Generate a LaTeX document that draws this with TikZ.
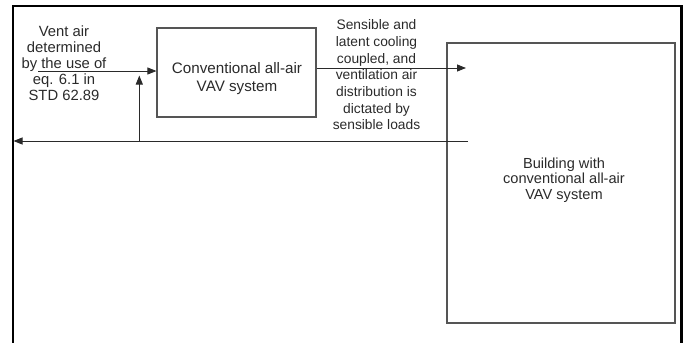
\documentclass[tikz,border=0pt]{standalone}
\usepackage{fontspec}
\setmainfont{Liberation Sans}
\usetikzlibrary{arrows.meta}
\definecolor{ink}{HTML}{2A2A2A}
\definecolor{boxline}{HTML}{555555}
\tikzset{
  frameline/.style={line width=2.2pt, draw=black},
  boxnode/.style={draw=boxline, line width=1.2pt, rectangle, inner sep=0pt},
  conn/.style={draw=ink, line width=0.8pt},
  arr/.style={conn, -{Triangle[length=9pt,width=7pt]}},
  lbl/.style={align=center, text=ink, inner sep=0pt},
}
\begin{document}
\begin{tikzpicture}[x=1pt,y=-1pt]
\useasboundingbox (0,0) rectangle (686,343);
% outer frame (open at bottom)
\draw[frameline] (12.7,345) -- (12.7,6) -- (681.5,6) -- (681.5,345);
% boxes
\node[boxnode, minimum width=159pt, minimum height=89pt] (vav) at (236.5,72.5) {};
\node[lbl, font=\fontsize{15.2}{18}\selectfont] (vavtext) at (237,79) {Conventional all-air\\VAV system};
\node[boxnode, minimum width=228pt, minimum height=280pt] (bldg) at (561,183) {};
\node[lbl, font=\fontsize{14.6}{15.5}\selectfont] (bldgtext) at (564,180) {Building with\\conventional all-air\\VAV system};
% labels
\node[lbl, font=\fontsize{14.8}{15.9}\selectfont] (ventlbl) at (64,63.5) {Vent air\\determined\\by the use of\\eq. 6.1 in\\STD 62.89};
\node[lbl, font=\fontsize{13.8}{16.67}\selectfont] (senslbl) at (376.5,75) {Sensible and\\latent cooling\\coupled, and\\ventilation air\\distribution is\\dictated by\\sensible loads};
% connector coordinates
\coordinate (inStart) at (38,71);
\coordinate (outEnd) at (466,68);
\coordinate (retStart) at (468,141);
\coordinate (retEnd) at (13.5,141);
\coordinate (tap) at (139.3,141);
\coordinate (tapEnd) at (139.3,75.5);
% connectors
\draw[arr] (inStart) -- (vav.west |- inStart);
\draw[arr] (vav.east |- outEnd) -- (outEnd);
\draw[arr] (retStart) -- (retEnd);
\draw[arr] (tap) -- (tapEnd);
\end{tikzpicture}
\end{document}
